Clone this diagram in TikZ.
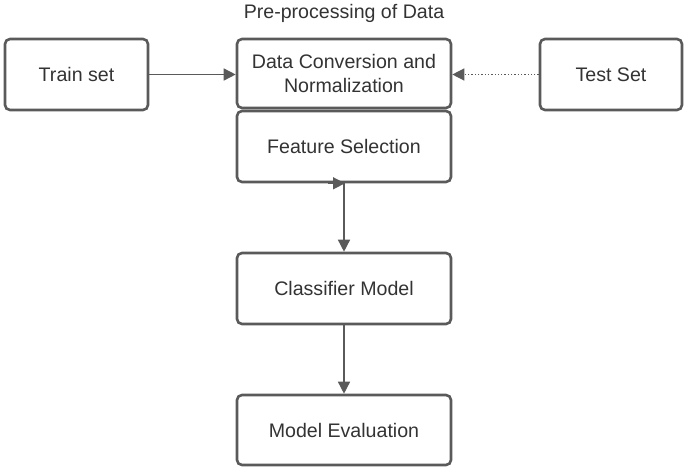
\documentclass[tikz,border=0pt]{standalone}
\usepackage{fontspec}
\setmainfont{Liberation Sans}
\usetikzlibrary{arrows.meta}
\definecolor{edge}{HTML}{5A5A5A}
\definecolor{txt}{HTML}{333333}
\begin{document}
\begin{tikzpicture}[x=1pt,y=-1pt,
  box/.style={draw=edge, line width=2.6pt, rounded corners=5pt, fill=white, inner sep=0pt, align=center, text=txt, font=\fontsize{19.6}{24.5}\selectfont},
  conn/.style={draw=edge, line width=1.5pt, -{Triangle[length=12pt,width=12pt]}},
  dconn/.style={draw=edge, line width=1.3pt, dotted, -{Triangle[length=12pt,width=12pt]}}]
\useasboundingbox (0,0) rectangle (685,471);
\node[text=txt, font=\fontsize{19.6}{22}\selectfont] (title) at (344,13) {Pre-processing of Data};
\node[box, minimum width=143pt, minimum height=71pt] (train) at (76.5,74.5) {Train set};
\node[box, minimum width=214pt, minimum height=69pt] (conv) at (344,73.5) {Data Conversion and\\Normalization};
\node[box, minimum width=142pt, minimum height=71pt] (test) at (611,74.5) {Test Set};
\node[box, minimum width=214pt, minimum height=71pt] (fs) at (344,146.5) {Feature Selection};
\node[box, minimum width=214pt, minimum height=71pt] (clf) at (344,288.5) {Classifier Model};
\node[box, minimum width=214pt, minimum height=70pt] (eval) at (344,430) {Model Evaluation};
\draw[conn] (train.east) -- (conv.west |- train.east);
\draw[dconn] (test.west) -- (conv.east |- test.west);
\coordinate (fsin) at ([xshift=-16pt]fs.south);
\draw[conn, shorten >=-1pt] (fsin) -- (fs.south);
\draw[conn] (fs.south) -- (clf.north);
\draw[conn] (clf.south) -- (eval.north);
\end{tikzpicture}
\end{document}
